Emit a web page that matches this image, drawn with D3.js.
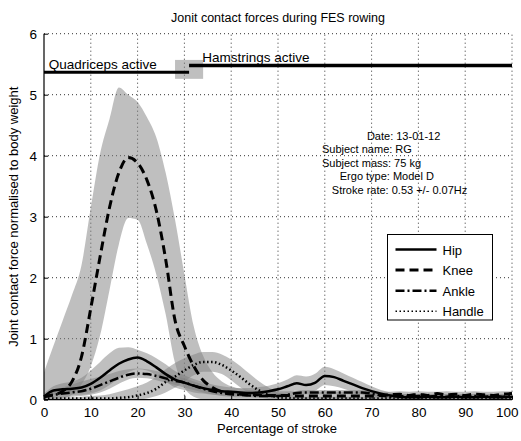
<!DOCTYPE html>
<html>
<head>
<meta charset="utf-8">
<script src="https://cdn.jsdelivr.net/npm/d3@7"></script>
<style>
	body { margin: 0; background: #fff; }
	text { font-family: "Liberation Sans", Arial, sans-serif; fill: #000; }
	.grid line { stroke: #000; stroke-width: 1; stroke-dasharray: 1,3; opacity: 0.8; }
	.band { fill: #808080; fill-opacity: 0.5; stroke: none; }
	.series { fill: none; stroke: #000; }
</style>
</head>
<body>
<div id="chart"></div>
<script>

// percentage of stroke
var stroke = [0,2,4,6,8,10,12,14,16,18,20,22,24,26,28,30,32,34,36,38,40,42,44,46,48,50,
	52,54,56,58,60,62,64,66,68,70,72,74,76,78,80,82,84,86,88,90,92,94,96,98,100];

var hipMean = [0.05,0.15,0.17,0.18,0.2,0.26,0.36,0.48,0.59,0.66, 0.69,0.63,0.53,0.42,0.33,0.28,0.23,0.19,0.16,0.14,
	0.13,0.12,0.11,0.12,0.14,0.17,0.22,0.27,0.24,0.28, 0.39,0.37,0.31,0.25,0.19,0.14,0.1,0.07,0.05,0.04,
	0.04,0.05,0.04,0.04,0.05,0.04,0.04,0.05,0.04,0.04, 0.05];
var hipHi = [0.1,0.22,0.27,0.3,0.36,0.48,0.62,0.76,0.85,0.86, 0.82,0.76,0.68,0.58,0.47,0.4,0.34,0.29,0.25,0.22,
	0.2,0.19,0.19,0.21,0.23,0.27,0.33,0.4,0.38,0.43, 0.54,0.5,0.43,0.36,0.29,0.22,0.16,0.12,0.1,0.09,
	0.09,0.09,0.09,0.09,0.09,0.09,0.09,0.09,0.09,0.09, 0.09];
var hipLo = [0,0.08,0.08,0.08,0.08,0.1,0.15,0.24,0.35,0.45, 0.5,0.48,0.4,0.3,0.2,0.16,0.12,0.1,0.08,0.07,
	0.06,0.06,0.05,0.05,0.06,0.08,0.11,0.15,0.12,0.15, 0.24,0.22,0.18,0.13,0.08,0.05,0.03,0.02,0.01,0.01,
	0.01,0.01,0.01,0.01,0.01,0.01,0.01,0.01,0.01,0.01, 0.01];

var kneeMean = [0.05,0.08,0.14,0.3,0.7,1.5,2.35,3.15,3.72,3.97, 3.88,3.6,3.1,2.3,1.3,0.88,0.55,0.32,0.2,0.13,
	0.1,0.09,0.08,0.08,0.07,0.07,0.07,0.06,0.06,0.06, 0.06,0.06,0.06,0.06,0.06,0.06,0.07,0.08,0.09,0.07,
	0.09,0.07,0.1,0.08,0.09,0.07,0.09,0.08,0.07,0.09, 0.1];
var kneeHi = [0.45,0.88,1.3,1.72,2.2,3.15,4.04,4.6,5.12,5.0, 4.88,4.63,4.3,3.72,2.95,2.05,1.2,0.72,0.45,0.3,
	0.22,0.18,0.16,0.15,0.15,0.14,0.14,0.14,0.13,0.13, 0.13,0.13,0.13,0.13,0.13,0.13,0.13,0.13,0.14,0.13,
	0.14,0.13,0.13,0.14,0.13,0.13,0.14,0.13,0.13,0.14, 0.14];
var kneeLo = [0,0,0.02,0.08,0.25,0.55,1.06,1.8,2.55,2.98, 2.95,2.55,2.05,1.4,0.6,0.2,0.05,0.01,0.01,0.01,
	0.01,0.01,0.01,0.01,0.01,0.01,0.01,0.01,0.01,0.01, 0.01,0.01,0.01,0.01,0.01,0.01,0.01,0.01,0.01,0.01,
	0.01,0.01,0.01,0.01,0.01,0.01,0.01,0.01,0.01,0.01, 0.01];

var ankleMean = [0.05,0.08,0.1,0.12,0.14,0.18,0.24,0.3,0.36,0.41, 0.43,0.42,0.39,0.35,0.31,0.28,0.23,0.18,0.14,0.11,
	0.09,0.08,0.07,0.06,0.06,0.06,0.08,0.11,0.12,0.12, 0.12,0.12,0.12,0.12,0.12,0.1,0.07,0.05,0.06,0.05,
	0.06,0.05,0.06,0.05,0.06,0.05,0.06,0.05,0.06,0.05, 0.06];
var ankleHi = [0.08,0.14,0.2,0.25,0.3,0.34,0.38,0.42,0.47,0.5, 0.51,0.5,0.47,0.43,0.39,0.35,0.3,0.25,0.2,0.16,
	0.13,0.12,0.11,0.1,0.1,0.1,0.12,0.15,0.16,0.16, 0.16,0.16,0.16,0.16,0.16,0.14,0.11,0.09,0.09,0.09,
	0.09,0.09,0.09,0.09,0.09,0.09,0.09,0.09,0.09,0.09, 0.09];
var ankleLo = [0.02,0.03,0.04,0.05,0.06,0.08,0.12,0.18,0.26,0.33, 0.36,0.35,0.32,0.28,0.24,0.2,0.16,0.12,0.09,0.06,
	0.05,0.04,0.04,0.03,0.03,0.03,0.05,0.08,0.09,0.09, 0.09,0.09,0.09,0.09,0.09,0.07,0.04,0.02,0.02,0.02,
	0.02,0.02,0.02,0.02,0.02,0.02,0.02,0.02,0.02,0.02, 0.02];

var handleMean = [0.02,0.02,0.02,0.02,0.02,0.02,0.02,0.02,0.03,0.04, 0.07,0.11,0.18,0.29,0.38,0.48,0.57,0.62,0.62,0.57,
	0.48,0.37,0.25,0.15,0.08,0.04,0.03,0.02,0.02,0.02, 0.02,0.02,0.02,0.02,0.02,0.02,0.02,0.02,0.02,0.02,
	0.02,0.02,0.02,0.02,0.02,0.02,0.02,0.02,0.02,0.02, 0.02];
var handleHi = [0.04,0.04,0.04,0.04,0.05,0.06,0.07,0.09,0.13,0.17, 0.22,0.28,0.38,0.5,0.6,0.68,0.74,0.78,0.78,0.74,
	0.66,0.55,0.42,0.3,0.2,0.12,0.08,0.06,0.05,0.05, 0.05,0.05,0.05,0.05,0.05,0.05,0.05,0.05,0.05,0.05,
	0.05,0.05,0.05,0.05,0.05,0.05,0.05,0.05,0.05,0.05, 0.05];
var handleLo = [0,0,0,0,0,0,0,0,0,0, 0,0.02,0.06,0.12,0.2,0.3,0.4,0.46,0.46,0.42,
	0.32,0.2,0.1,0.04,0.01,0,0,0,0,0, 0,0,0,0,0,0,0,0,0,0,
	0,0,0,0,0,0,0,0,0,0, 0];

var seriesNames = ["Hip", "Knee", "Ankle", "Handle"];
var xTicks = [0,10,20,30,40,50,60,70,80,90,100];
var yTicks = [0,1,2,3,4,5,6];

// muscle activation bars: [start, end, level]
var quadActive = [0, 31, 5.37];
var hamsActive = [31, 100, 5.48];
var overlapBox = [28, 34, 5.26, 5.57];

var infoLines = ["Date: 13-01-12", "Subject name: RG", "Subject mass: 75 kg", "Ergo type: Model D", "Stroke rate: 0.53 +/- 0.07Hz"];
var infoX = [69, 59.4, 59.4, 63.2, 61.5];
var infoY = [4.26, 4.04, 3.82, 3.6, 3.38];

var W = 521, H = 441;
var margin = {left: 44, right: 9, top: 33.7, bottom: 41.3};

var x = d3.scaleLinear().domain([0, 100]).range([margin.left, W - margin.right]);
var y = d3.scaleLinear().domain([0, 6]).range([H - margin.bottom, margin.top]);

var svg = d3.select("#chart").append("svg")
	.attr("width", W)
	.attr("height", H);

// grid
var grid = svg.append("g").attr("class", "grid");
grid.selectAll(".gx").data(xTicks.slice(1)).enter().append("line")
	.attr("x1", function(d) { return x(d); })
	.attr("x2", function(d) { return x(d); })
	.attr("y1", y(0))
	.attr("y2", y(6));
grid.selectAll(".gy").data(yTicks.slice(1)).enter().append("line")
	.attr("x1", x(0))
	.attr("x2", x(100))
	.attr("y1", function(d) { return y(d); })
	.attr("y2", function(d) { return y(d); });

var series = [
	{name: "Hip", mean: hipMean, lo: hipLo, hi: hipHi, dash: null, width: 2.5},
	{name: "Knee", mean: kneeMean, lo: kneeLo, hi: kneeHi, dash: "9,5", width: 3},
	{name: "Ankle", mean: ankleMean, lo: ankleLo, hi: ankleHi, dash: "9,3,2,3", width: 2.5},
	{name: "Handle", mean: handleMean, lo: handleLo, hi: handleHi, dash: "1.5,2.5", width: 2.5}
];

var area = d3.area()
	.curve(d3.curveMonotoneX)
	.x(function(d) { return x(d.x); })
	.y0(function(d) { return y(d.lo); })
	.y1(function(d) { return y(d.hi); });
var line = d3.line()
	.curve(d3.curveMonotoneX)
	.x(function(d) { return x(d.x); })
	.y(function(d) { return y(d.v); });

function rows(s) {
	return stroke.map(function(v, i) { return {x: v, v: s.mean[i], lo: s.lo[i], hi: s.hi[i]}; });
}

// shaded bands first, then the mean lines on top
var bands = svg.append("g").attr("class", "bands");
series.forEach(function(s) {
	bands.append("path").attr("class", "band").attr("d", area(rows(s)));
});

// activation markers
svg.append("rect")
	.attr("class", "band")
	.attr("x", x(overlapBox[0]))
	.attr("y", y(overlapBox[3]))
	.attr("width", x(overlapBox[1]) - x(overlapBox[0]))
	.attr("height", y(overlapBox[2]) - y(overlapBox[3]));
svg.append("line")
	.attr("x1", x(quadActive[0])).attr("x2", x(quadActive[1]))
	.attr("y1", y(quadActive[2])).attr("y2", y(quadActive[2]))
	.attr("stroke", "#000").attr("stroke-width", 3);
svg.append("line")
	.attr("x1", x(hamsActive[0])).attr("x2", x(hamsActive[1]))
	.attr("y1", y(hamsActive[2])).attr("y2", y(hamsActive[2]))
	.attr("stroke", "#000").attr("stroke-width", 3.5);
svg.append("text")
	.attr("x", x(1)).attr("y", y(quadActive[2]) - 3.5)
	.attr("font-size", "13.5px")
	.text("Quadriceps active");
svg.append("text")
	.attr("x", x(33.8)).attr("y", y(hamsActive[2]) - 3)
	.attr("font-size", "13.5px")
	.text("Hamstrings active");

var lines = svg.append("g").attr("class", "lines");
series.forEach(function(s) {
	lines.append("path")
		.attr("class", "series")
		.attr("d", line(rows(s)))
		.attr("stroke-width", s.width)
		.attr("stroke-dasharray", s.dash);
});

// axes
var xAxis = svg.append("g")
	.attr("transform", "translate(0," + y(0) + ")")
	.call(d3.axisBottom(x).tickValues(xTicks).tickSize(-4).tickPadding(8));
var yAxis = svg.append("g")
	.attr("transform", "translate(" + x(0) + ",0)")
	.call(d3.axisLeft(y).tickValues(yTicks).tickFormat(d3.format("d")).tickSize(-4).tickPadding(7));
[xAxis, yAxis].forEach(function(a) {
	a.select(".domain").attr("stroke", "#000").attr("stroke-width", 1.2);
	a.selectAll(".tick line").attr("stroke", "#000");
	a.selectAll("text").attr("font-size", "13.5px").attr("font-family", "Liberation Sans, Arial, sans-serif").attr("fill", "#000");
});
xAxis.select(".domain").attr("d", "M" + x(0) + ",0H" + x(100));
yAxis.select(".domain").attr("d", "M0," + y(0) + "V" + y(6));
// keep the last tick label inside the window
xAxis.selectAll(".tick text").filter(function(d) { return d == 100; })
	.attr("text-anchor", "end").attr("dx", "0.45em");

// titles
svg.append("text")
	.attr("x", 278).attr("y", 22)
	.attr("text-anchor", "middle")
	.attr("font-size", "12.5px")
	.text("Jonit  contact forces during FES rowing");
svg.append("text")
	.attr("x", 277).attr("y", 433)
	.attr("text-anchor", "middle")
	.attr("font-size", "13px")
	.text("Percentage of stroke");
svg.append("text")
	.attr("transform", "translate(18," + ((y(0) + y(6)) / 2) + ") rotate(-90)")
	.attr("text-anchor", "middle")
	.attr("font-size", "13px")
	.text("Joint contact force normalised to body weight");

// subject info
svg.append("g").selectAll("text")
	.data(infoLines)
	.enter().append("text")
	.attr("x", function(d, i) { return x(infoX[i]); })
	.attr("y", function(d, i) { return y(infoY[i]); })
	.attr("font-size", "11px")
	.text(function(d) { return d; });

// legend
var legend = svg.append("g").attr("transform", "translate(387.5,234.5)");
legend.append("rect")
	.attr("width", 105).attr("height", 85.5)
	.attr("fill", "#fff").attr("stroke", "#000").attr("stroke-width", 1);
series.forEach(function(s, i) {
	var ly = 15 + i * 20.6;
	legend.append("line")
		.attr("x1", 8).attr("x2", 49)
		.attr("y1", ly).attr("y2", ly)
		.attr("stroke", "#000")
		.attr("stroke-width", i == 3 ? 1.5 : s.width)
		.attr("stroke-dasharray", s.dash);
	legend.append("text")
		.attr("x", 55).attr("y", ly + 5)
		.attr("font-size", "13px")
		.text(s.name);
});

</script>
</body>
</html>
